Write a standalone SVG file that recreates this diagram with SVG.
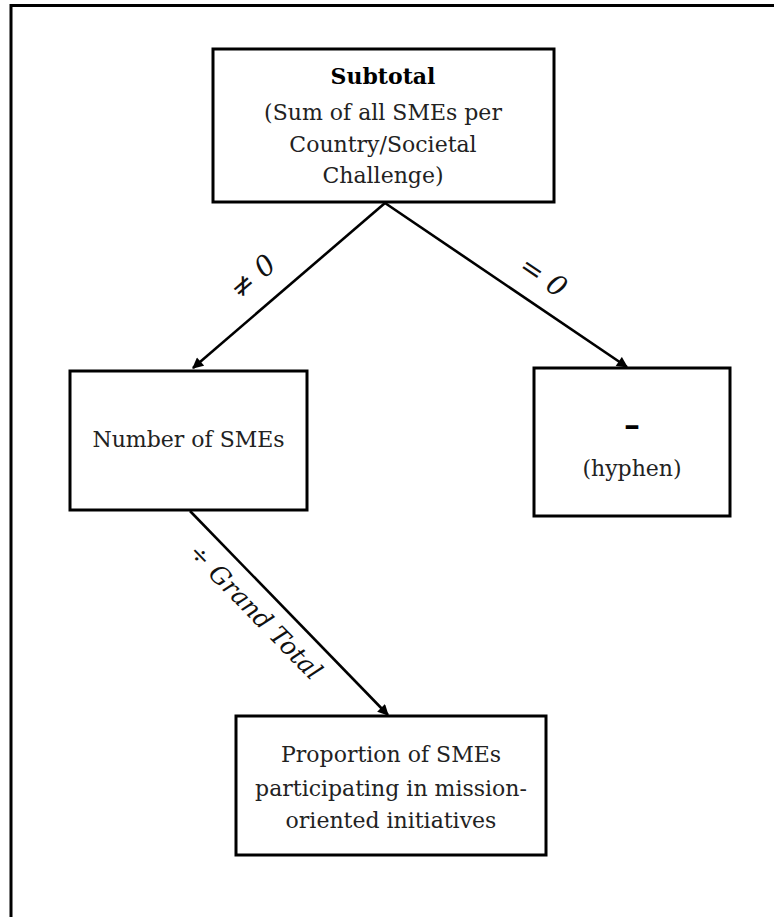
<svg xmlns="http://www.w3.org/2000/svg" width="774" height="917" viewBox="0 0 774 917">
<style>
  .box { fill: #ffffff; stroke: #000000; stroke-width: 3; }
  .t { font-family: "DejaVu Serif", "Liberation Serif", serif; font-size: 22px; fill: #222222; text-anchor: middle; }
  .b { font-weight: bold; fill: #000000; }
  .conn { stroke: #000000; stroke-width: 2.6; fill: none; marker-end: url(#arrow); }
  .lbl { font-family: "DejaVu Serif", "Liberation Serif", serif; font-style: italic; font-size: 28px; fill: #111111; text-anchor: middle; }
</style>
<defs>
  <marker id="arrow" viewBox="0 0 10 10" refX="9" refY="5" markerWidth="13" markerHeight="11" markerUnits="userSpaceOnUse" orient="auto">
    <path d="M0,0 L10,5 L0,10 z" fill="#000000"/>
  </marker>
</defs>
<rect x="0" y="0" width="774" height="917" fill="#ffffff"/>
<path d="M11,917 V5.5 H774" fill="none" stroke="#000000" stroke-width="3"/>

<g id="connectors">
  <line class="conn" x1="385" y1="203" x2="193" y2="368"/>
  <line class="conn" x1="385" y1="203" x2="627" y2="367"/>
  <line class="conn" x1="190" y1="511" x2="388" y2="715"/>
  <text class="lbl" transform="translate(253,277) rotate(-40.5)" x="0" y="9">≠ 0</text>
  <text class="lbl" transform="translate(543,277) rotate(34)" x="0" y="9">= 0</text>
  <text class="lbl" transform="translate(255,612) rotate(45.7)" x="0" y="8" style="font-size:25px">÷ Grand Total</text>
</g>

<g id="subtotal">
  <rect class="box" x="213" y="49" width="341" height="153"/>
  <text class="t b" x="383" y="84">Subtotal</text>
  <text class="t" x="383" y="120">(Sum of all SMEs per</text>
  <text class="t" x="383" y="152">Country/Societal</text>
  <text class="t" x="383" y="183">Challenge)</text>
</g>

<g id="number">
  <rect class="box" x="70" y="371" width="237" height="139"/>
  <text class="t" x="188.5" y="447">Number of SMEs</text>
</g>

<g id="hyphen">
  <rect class="box" x="534" y="368" width="196" height="148"/>
  <text class="t b" x="632" y="436" style="font-size:32px">–</text>
  <text class="t" x="632" y="476">(hyphen)</text>
</g>

<g id="proportion">
  <rect class="box" x="236" y="716" width="310" height="139"/>
  <text class="t" x="391" y="762">Proportion of SMEs</text>
  <text class="t" x="391" y="796">participating in mission-</text>
  <text class="t" x="391" y="828">oriented initiatives</text>
</g>
</svg>
